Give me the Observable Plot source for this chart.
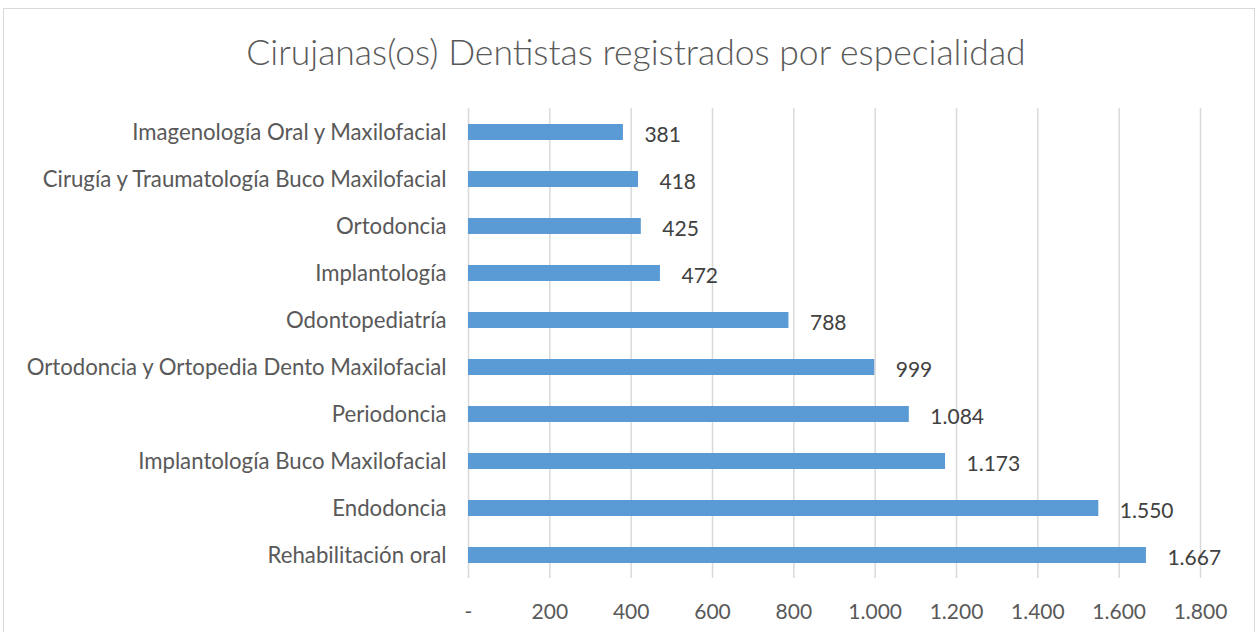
<!DOCTYPE html>
<html>
<head>
<meta charset="utf-8">
<script src="https://cdn.jsdelivr.net/npm/d3@7"></script>
<script src="https://cdn.jsdelivr.net/npm/@observablehq/plot@0.6"></script>
<style>
  html, body { margin: 0; padding: 0; background: #fff; }
  #wrap { position: relative; width: 1260px; height: 632px; overflow: hidden; font-family: Lato, "Open Sans", sans-serif; }
  #frame { position: absolute; left: 3px; top: 8px; width: 1252px; height: 640px; border: 1px solid #d9d9d9; box-sizing: border-box; }
  #title { position: absolute; left: 6px; top: 0; width: 1260px; height: 100px; line-height: 104px; text-align: center; font-size: 35.5px; font-weight: 300; color: #595959; }
  #chart { position: absolute; left: 0; top: 100px; }
</style>
</head>
<body>
<div id="wrap">
  <div id="frame"></div>
  <div id="title">Cirujanas(os) Dentistas registrados por especialidad</div>
  <div id="chart"></div>
</div>
<script>
const categories = [
  "Imagenología Oral y Maxilofacial",
  "Cirugía y Traumatología Buco Maxilofacial",
  "Ortodoncia",
  "Implantología",
  "Odontopediatría",
  "Ortodoncia y Ortopedia Dento Maxilofacial",
  "Periodoncia",
  "Implantología Buco Maxilofacial",
  "Endodoncia",
  "Rehabilitación oral"
];
const values = [381, 418, 425, 472, 788, 999, 1084, 1173, 1550, 1667];
const xTicks = [0, 200, 400, 600, 800, 1000, 1200, 1400, 1600, 1800];

const data = categories.map((c, i) => ({category: c, value: values[i]}));
const fmt = d => d === 0 ? "-" : d3.format(",")(d).replace(/,/g, ".");

const chart = Plot.plot({
  width: 1260,
  height: 532,
  marginLeft: 468,
  marginRight: 60,
  marginTop: 8,
  marginBottom: 54,
  style: {fontFamily: "Lato, 'Open Sans', sans-serif", background: "transparent"},
  x: {domain: [0, 1800], ticks: xTicks, tickFormat: fmt, label: null},
  y: {domain: categories, paddingInner: 0.66, paddingOuter: 0.33, label: null},
  marks: [
    Plot.gridX(xTicks, {stroke: "#d9d9d9", strokeOpacity: 1, strokeWidth: 1.5}),
    Plot.barX(data, {x: "value", y: "category", fill: "#5b9bd5"}),
    Plot.text(data, {x: "value", y: "category", text: d => fmt(d.value), textAnchor: "start", dx: 21, dy: 3, fontSize: 21, fill: "#404040"}),
    Plot.axisX({ticks: xTicks, tickFormat: fmt, tickSize: 0, tickPadding: 26, fontSize: 21, color: "#595959", label: null}),
    Plot.axisY({tickSize: 0, tickPadding: 22, fontSize: 22.2, color: "#595959", label: null})
  ]
});
document.getElementById("chart").appendChild(chart);
</script>
</body>
</html>
